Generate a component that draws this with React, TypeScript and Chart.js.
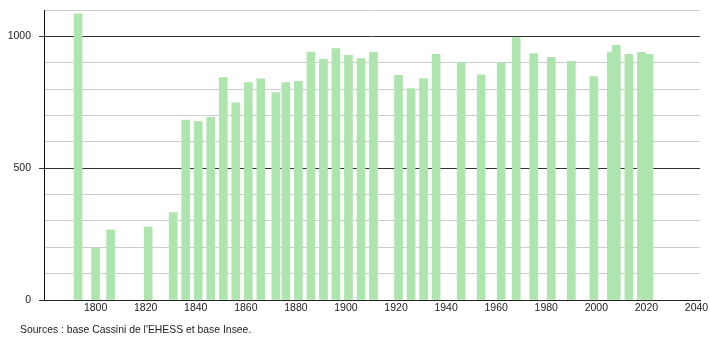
import React, { useEffect, useRef } from 'react';
import { Chart, registerables } from 'chart.js';

Chart.register(...registerables);

const YEARS = [
  1793, 1800, 1806, 1821, 1831, 1836, 1841, 1846, 1851, 1856,
  1861, 1866, 1872, 1876, 1881, 1886, 1891, 1896, 1901, 1906,
  1911, 1921, 1926, 1931, 1936, 1946, 1954, 1962, 1968, 1975,
  1982, 1990, 1999, 2006, 2008, 2013, 2018, 2021,
];
const POPULATION = [
  1085, 197, 266, 277, 332, 682, 677, 693, 844, 748,
  825, 839, 787, 825, 829, 940, 914, 954, 928, 916,
  939, 852, 802, 840, 932, 900, 854, 900, 995, 935,
  920, 905, 847, 940, 966, 932, 939, 932,
];
const X_TICKS = [1800, 1820, 1840, 1860, 1880, 1900, 1920, 1940, 1960, 1980, 2000, 2020, 2040];
const Y_LABELS = [0, 500, 1000];
const SOURCE_TEXT = "Sources : base Cassini de l'EHESS et base Insee.";

const FONT = '"Liberation Sans", Arial, Helvetica, sans-serif';

export default function App() {
  const ref = useRef<HTMLCanvasElement>(null);

  useEffect(() => {
    document.body.style.margin = '0';
    const points = YEARS.map((y, i) => ({ x: y, y: POPULATION[i] }));
    const chart = new Chart(ref.current!, {
      type: 'bar',
      data: {
        datasets: [
          {
            data: points as any,
            backgroundColor: 'rgb(174, 228, 174)',
            borderWidth: 0,
            barThickness: 8,
          },
        ],
      },
      options: {
        animation: false,
        responsive: false,
        devicePixelRatio: 1,
        layout: { padding: { top: 10, right: 10, left: 0, bottom: 0 } },
        plugins: {
          legend: { display: false },
          tooltip: { enabled: false },
          title: { display: false },
        },
        scales: {
          x: {
            type: 'linear',
            min: 1779.4,
            max: 2041.4,
            offset: false,
            grid: { display: false, drawTicks: false, offset: false },
            border: { display: true, color: '#222', width: 1 },
            afterBuildTicks: (s: any) => {
              s.ticks = X_TICKS.map((v) => ({ value: v }));
            },
            afterFit: (s: any) => {
              s.height = 40;
              s.paddingLeft = 0;
              s.paddingRight = 0;
            },
            ticks: {
              autoSkip: false,
              maxRotation: 0,
              padding: 2,
              color: '#222',
              font: { family: FONT, size: 10.5 },
              callback: (v: any) => String(v),
            },
          },
          y: {
            min: 0,
            max: 1100,
            grid: {
              color: (c: any) => (Y_LABELS.includes(c.tick?.value) ? '#333' : '#cccccc'),
              tickColor: (c: any) => (Y_LABELS.includes(c.tick?.value) ? '#333' : 'rgba(0,0,0,0)'),
              tickLength: 5,
              lineWidth: 1,
            },
            border: { display: true, color: '#111', width: 1 },
            afterFit: (s: any) => {
              s.width = 44;
              s.paddingTop = 0;
              s.paddingBottom = 0;
            },
            ticks: {
              stepSize: 100,
              autoSkip: false,
              padding: 8,
              color: '#222',
              font: { family: FONT, size: 10.5 },
              callback: (v: any) => (Y_LABELS.includes(Number(v)) ? String(v) : ''),
            },
          },
        },
      },
    });
    return () => chart.destroy();
  }, []);

  return (
    <div style={{ position: 'relative', width: 710, height: 340, background: '#fff' }}>
      <canvas ref={ref} width={710} height={340} style={{ display: 'block', width: 710, height: 340 }} />
      <div
        style={{
          position: 'absolute',
          left: 20,
          top: 324,
          font: `10.4px ${FONT}`,
          color: '#222',
          whiteSpace: 'nowrap',
        }}
      >
        {SOURCE_TEXT}
      </div>
    </div>
  );
}
